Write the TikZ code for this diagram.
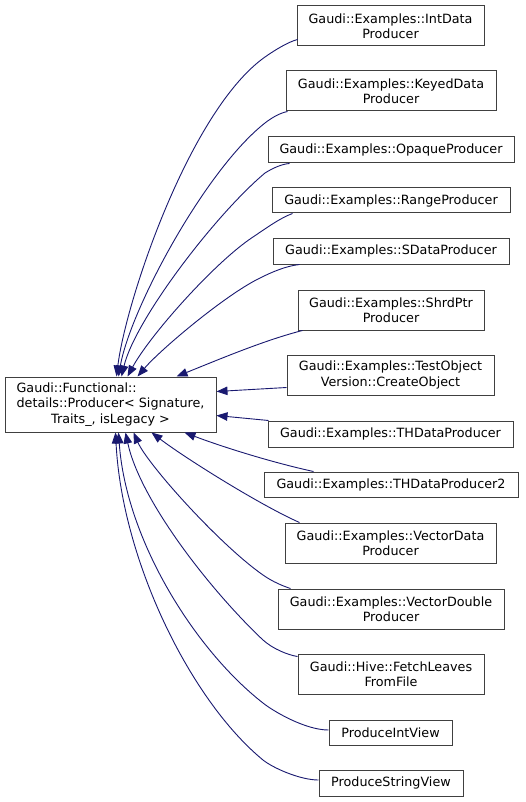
\documentclass[tikz,border=0pt]{standalone}
\usepackage{fontspec}
\setmainfont{DejaVu Sans}
\usetikzlibrary{arrows.meta,calc}
\definecolor{edgeblue}{HTML}{191970}
\begin{document}
\begin{tikzpicture}[x=1pt,y=-1pt,
  box/.style={draw=black!75, line width=1pt, fill=white, inner sep=0pt, align=center,
    font=\fontsize{12.75}{15.5}\selectfont},
  inh/.style={draw=edgeblue, line width=0.9pt, {Triangle[length=11pt,width=8.5pt]}-}]
\useasboundingbox (0,0) rectangle (525,802);

% nodes
\node[box, minimum width=211pt, minimum height=55pt] (base) at (110.5,404.5)
  {\begin{tabular}{@{}l@{}}Gaudi::Functional::\\details::Producer< Signature,\\\multicolumn{1}{@{}c@{}}{Traits\_, isLegacy >}\end{tabular}};
\node[box, minimum width=187pt, minimum height=40pt] (intdata) at (390.5,26) {Gaudi::Examples::IntData\\Producer};
\node[box, minimum width=210pt, minimum height=40pt] (keyed) at (391,91) {Gaudi::Examples::KeyedData\\Producer};
\node[box, minimum width=246pt, minimum height=26pt] (opaque) at (391,150) {Gaudi::Examples::OpaqueProducer};
\node[box, minimum width=238pt, minimum height=25pt] (range) at (391,200.5) {Gaudi::Examples::RangeProducer};
\node[box, minimum width=236pt, minimum height=26pt] (sdata) at (391,251) {Gaudi::Examples::SDataProducer};
\node[box, minimum width=186pt, minimum height=40pt] (shrd) at (391,310) {Gaudi::Examples::ShrdPtr\\Producer};
\node[box, minimum width=207pt, minimum height=40pt] (testobj) at (390.5,375) {Gaudi::Examples::TestObject\\Version::CreateObject};
\node[box, minimum width=245pt, minimum height=26pt] (thdata) at (390.5,434) {Gaudi::Examples::THDataProducer};
\node[box, minimum width=254pt, minimum height=25pt] (thdatatwo) at (391,484.5) {Gaudi::Examples::THDataProducer2};
\node[box, minimum width=211pt, minimum height=40pt] (vecdata) at (390.5,543) {Gaudi::Examples::VectorData\\Producer};
\node[box, minimum width=226pt, minimum height=40pt] (vecdouble) at (391,609) {Gaudi::Examples::VectorDouble\\Producer};
\node[box, minimum width=186pt, minimum height=40pt] (fetch) at (391,674) {Gaudi::Hive::FetchLeaves\\FromFile};
\node[box, minimum width=123pt, minimum height=25pt] (prodint) at (390.5,732.5) {ProduceIntView};
\node[box, minimum width=144pt, minimum height=26pt] (prodstr) at (391,783) {ProduceStringView};

% edges (arrow at the base class)
\draw[inh] ($(base.north west)+(112,0)$) .. controls (126,300) and (190,110) .. (265,57)
  .. controls (275,50) and (288,42) .. ($(intdata.south west)+(1,-7)$);
\draw[inh] ($(base.north west)+(114,0)$) .. controls (130,310) and (205,170) .. (265,123)
  .. controls (272,117.5) and (280,113) .. ($(keyed.south west)+(2,0)$);
\draw[inh] ($(base.north west)+(117,0)$) .. controls (135,320) and (215,215) .. (265,173)
  .. controls (273,168) and (282,164) .. ($(opaque.south west)+(22,0)$);
\draw[inh] ($(base.north west)+(123,0)$) .. controls (150,335) and (215,262) .. (253,237)
  .. controls (265,229) and (280,218) .. ($(range.south west)+(21,0)$);
\draw[inh] ($(base.north west)+(133,0)$) .. controls (160,350) and (225,295) .. (260,278)
  .. controls (272,272) and (286,266) .. ($(sdata.south west)+(27,0)$);
\draw[inh] ($(base.north west)+(172,0)$) .. controls (220,359) and (265,340) .. ($(shrd.south west)+(5,0)$);
\draw[inh] ($(base.north east)+(0,15)$) -- ($(testobj.south west)+(0,-8)$);
\draw[inh] ($(base.north east)+(0,39)$) -- ($(thdata.north west)+(1,0)$);
\draw[inh] ($(base.south west)+(180,0)$) .. controls (220,446) and (270,462) .. ($(thdatatwo.north west)+(50,0)$);
\draw[inh] ($(base.south west)+(147,0)$) .. controls (185,458) and (260,505) .. ($(vecdata.north west)+(15,0)$);
\draw[inh] ($(base.south west)+(129,0)$) .. controls (148,465) and (220,545) .. (263,575)
  .. controls (273,582) and (283,586) .. ($(vecdouble.north west)+(13,0)$);
\draw[inh] ($(base.south west)+(121,0)$) .. controls (140,500) and (210,590) .. (263,640)
  .. controls (273,649) and (288,655) .. ($(fetch.north west)+(0,3)$);
\draw[inh] ($(base.south west)+(114,0)$) .. controls (126,540) and (195,650) .. (263,703)
  .. controls (273,711) and (305,730) .. ($(prodint.west)+(0,-2.5)$);
\draw[inh] ($(base.south west)+(111,0)$) .. controls (122,560) and (190,700) .. (263,760)
  .. controls (273,768) and (300,780) .. ($(prodstr.west)+(0,-3)$);
\end{tikzpicture}
\end{document}
